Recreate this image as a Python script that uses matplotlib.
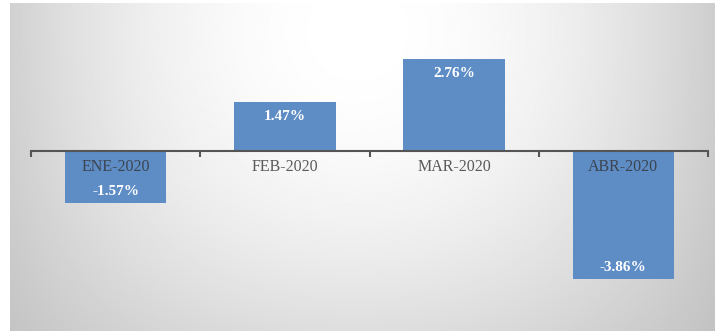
import numpy as np
import matplotlib
matplotlib.use("Agg")
from matplotlib import pyplot as plt

months = ["ENE-2020", "FEB-2020", "MAR-2020", "ABR-2020"]
changes = [-1.57, 1.47, 2.76, -3.86]
value_labels = ["-1.57%", "1.47%", "2.76%", "-3.86%"]

W, H = 715, 331
px_cat = 169.25      # pixels per category
px_unit = 33.2       # pixels per percentage point
x0_px, y0_px = 31, 151

fig = plt.figure(figsize=(W / 100, H / 100), dpi=100)
fig.patch.set_facecolor("white")

# gradient background (grey, white in the upper middle)
bg = fig.add_axes([0, 0, 1, 1])
bg.set_xlim(0, W)
bg.set_ylim(H, 0)
bg.axis("off")
xx, yy = np.meshgrid(np.linspace(10, W, 400), np.linspace(3, H, 200))
u = (xx - 357) / 347
v = (yy - 30) / 300
shade = 1 - 0.18 * u**2 - 0.13 * v**2 + 0.08 * u**2 * v**2
bg.imshow(shade, cmap="gray", vmin=0, vmax=1, extent=[10, W, H, 3],
          aspect="auto", interpolation="bilinear")

ax = fig.add_axes([0, 0, 1, 1])
ax.patch.set_alpha(0)
ax.set_xlim(-0.5 - x0_px / px_cat, -0.5 + (W - x0_px) / px_cat)
ax.set_ylim(-(H - y0_px) / px_unit, y0_px / px_unit)

x = np.arange(len(months))
ax.bar(x, changes, width=0.6, color="#5e8cc5", zorder=2)

for s in ["top", "right", "left"]:
    ax.spines[s].set_visible(False)
ax.spines["bottom"].set_position(("data", 0))
ax.spines["bottom"].set_bounds(-0.5, 3.5)
ax.spines["bottom"].set_color("#555555")
ax.spines["bottom"].set_linewidth(1.5)
ax.spines["bottom"].set_zorder(3)
ax.set_xticks(np.arange(-0.5, 4, 1))
ax.set_xticklabels([])
ax.tick_params(axis="x", length=4, width=1.5, color="#555555")
ax.set_yticks([])

serif = ["Liberation Serif", "DejaVu Serif"]
for i, (m, c, lab) in enumerate(zip(months, changes, value_labels)):
    ax.text(i, -16 / px_unit, m, ha="center", va="center", fontsize=11.5,
            family=serif, color="#333333", alpha=0.8, zorder=4)
    if c > 0:
        ty = c - 14 / px_unit
    else:
        ty = c + 11.5 / px_unit
    ax.text(i, ty, lab, ha="center", va="center", fontsize=11,
            family=serif, fontweight="bold", color="white", zorder=4)

fig.savefig("out.png", dpi=100)
